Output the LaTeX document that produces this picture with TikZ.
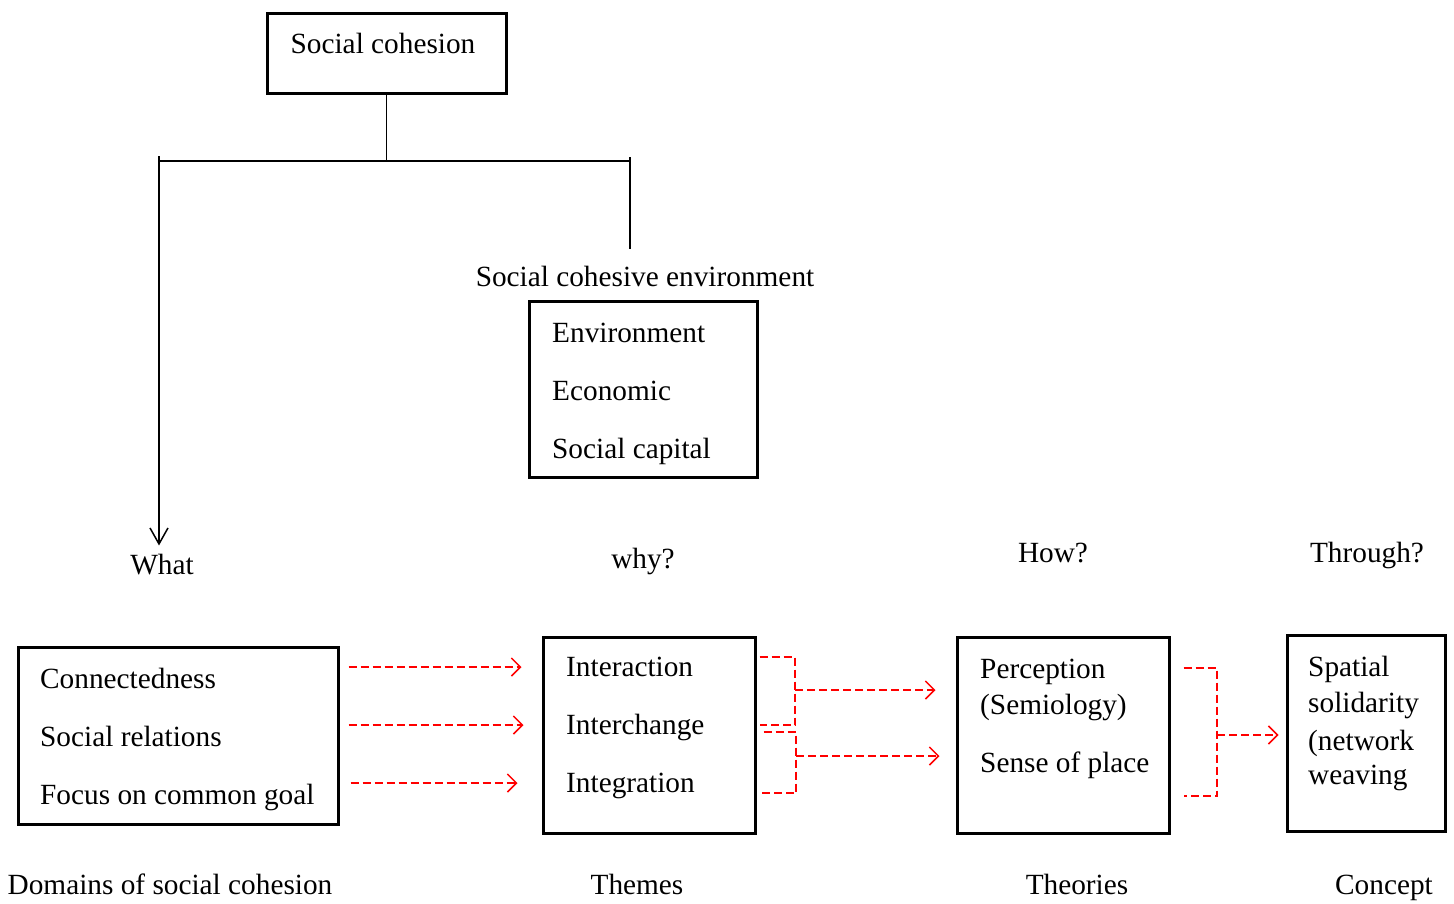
\documentclass[tikz,border=0pt]{standalone}
\usepackage{fontspec}
\setmainfont{Liberation Serif}
\usetikzlibrary{arrows.meta}

\begin{document}
\begin{tikzpicture}[
    x=1pt, y=-1pt,
    font=\fontsize{29.3pt}{35pt}\selectfont,
    box/.style={draw, line width=3pt, inner sep=0pt},
    txt/.style={inner sep=0pt, anchor=base west},
    lbl/.style={inner sep=0pt, anchor=base},
    tree/.style={line width=1.5pt},
    reddash/.style={red, line width=1.5pt, dash pattern=on 8pt off 4pt},
    redarr/.style={reddash, -{Straight Barb[length=9pt,width=18pt,line width=1.5pt]}}
  ]
    \useasboundingbox (0,0) rectangle (1454,903);

    % top of the tree
    \node[box, minimum width=239, minimum height=80] (sc) at (386.5,53) {};
    \node[lbl] (sctxt) at (383,53) {Social cohesion};
    \node[lbl] (sce) at (645,286) {Social cohesive environment};

    \node[box, minimum width=228, minimum height=176] (envbox) at (643,389) {};
    \node[txt] (env1) at (552,342) {Environment};
    \node[txt] (env2) at (552,400) {Economic};
    \node[txt] (env3) at (552,458) {Social capital};

    % questions
    \node[lbl] (what) at (162,574) {What};
    \node[lbl] (why) at (643,568) {why?};
    \node[lbl] (how) at (1053,562) {How?};
    \node[lbl] (through) at (1367,562) {Through?};

    % bottom row of boxes
    \node[box, minimum width=320, minimum height=177] (dom) at (178,735.5) {};
    \node[txt] (dom1) at (40,688) {Connectedness};
    \node[txt] (dom2) at (40,746) {Social relations};
    \node[txt] (dom3) at (40,804) {Focus on common goal};

    \node[box, minimum width=212, minimum height=196] (thm) at (649,735) {};
    \node[txt] (thm1) at (566,676) {Interaction};
    \node[txt] (thm2) at (566,734) {Interchange};
    \node[txt] (thm3) at (566,792) {Integration};

    \node[box, minimum width=212, minimum height=196] (thr) at (1063,735) {};
    \node[txt] (thr1) at (980,678) {Perception};
    \node[txt] (thr2) at (980,714) {(Semiology)};
    \node[txt] (thr3) at (980,772) {Sense of place};

    \node[box, minimum width=158, minimum height=196] (con) at (1366,733) {};
    \node[txt] (con1) at (1308,676) {Spatial};
    \node[txt] (con2) at (1308,712) {solidarity};
    \node[txt] (con3) at (1308,750) {(network};
    \node[txt] (con4) at (1308,784) {weaving};

    % captions
    \node[lbl] (domcap) at (170,894) {Domains of social cohesion};
    \node[lbl] (thmcap) at (637,894) {Themes};
    \node[lbl] (thrcap) at (1077,894) {Theories};
    \node[lbl] (concap) at (1384,894) {Concept};

    % tree lines
    \coordinate (tl) at (159,161);
    \coordinate (tr) at (630,161);
    \draw[tree] (sc.south) -- (sc.south|-tl);
    \draw[tree] ([yshift=5pt]tl) -- (tl) -- (tr) -- ([yshift=4pt]tr);
    \draw[tree, -{Straight Barb[length=16pt,width=18pt,line width=1.5pt]}] (tl) -- ([yshift=8pt]tl|-what.north);
    \draw[tree] (tr) -- ([yshift=16pt]tr|-sce.north);

    % red links
    \draw[redarr] ([xshift=9pt]dom.east|-0,667) -- ([xshift=-20pt]thm.west|-0,667);
    \draw[redarr] ([xshift=9pt]dom.east|-0,725) -- ([xshift=-18pt]thm.west|-0,725);
    \draw[redarr] ([xshift=11pt]dom.east|-0,783) -- ([xshift=-24pt]thm.west|-0,783);

    \coordinate (b1) at (795,690);
    \coordinate (b2) at (796,756);
    \draw[reddash] ([xshift=3pt]thm.east|-0,657) -| (b1) |- ([xshift=3pt]thm.east|-0,725);
    \draw[reddash] ([xshift=7pt]thm.east|-0,732) -| (b2) |- ([xshift=3pt]thm.east|-0,793);
    \draw[redarr] (b1) -- ([xshift=-20pt]thr.west|-b1);
    \draw[redarr] (b2) -- ([xshift=-16pt]thr.west|-b2);

    \coordinate (b3) at (1217,735);
    \draw[reddash] ([xshift=13pt]thr.east|-0,668) -| (b3) |- ([xshift=13pt]thr.east|-0,796);
    \draw[redarr] (b3) -- ([xshift=-7pt]con.west|-b3);
\end{tikzpicture}
\end{document}
